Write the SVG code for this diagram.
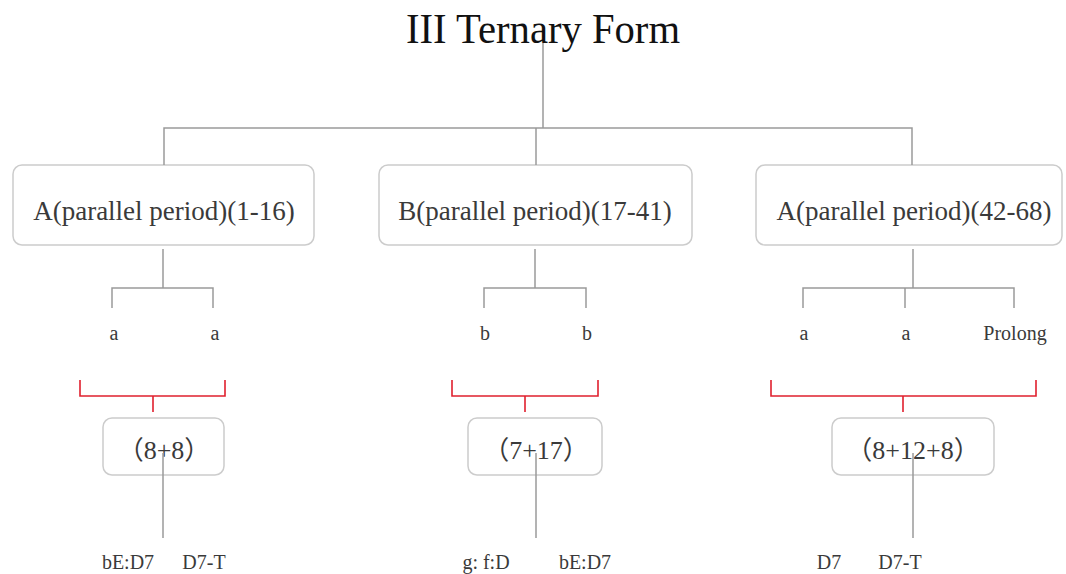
<svg xmlns="http://www.w3.org/2000/svg" width="1066" height="574" viewBox="0 0 1066 574">
  <style>
    .bg { fill: #ffffff; }
    .title { font-family: "Liberation Serif", "Times New Roman", serif; font-size: 43px; fill: #111111; text-anchor: middle; }
    .box { fill: #ffffff; stroke: #cccccc; stroke-width: 1.5; }
    .label { font-family: "Liberation Serif", "Times New Roman", serif; font-size: 27px; fill: #3a3a3a; text-anchor: middle; }
    .count { font-family: "Liberation Serif", "Noto Sans CJK SC", serif; font-size: 26px; fill: #3a3a3a; text-anchor: middle; }
    .small { font-family: "Liberation Serif", "Times New Roman", serif; font-size: 20px; fill: #3a3a3a; text-anchor: middle; }
    .tree { fill: none; stroke: #9a9a9a; stroke-width: 1.5; }
    .bracket { fill: none; stroke: #e0202e; stroke-width: 1.6; }
  </style>
  <rect class="bg" x="0" y="0" width="1066" height="574"/>

  <g id="title">
    <text class="title" x="543" y="43" textLength="274" lengthAdjust="spacingAndGlyphs">III Ternary Form</text>
  </g>

  <!-- sections -->
  <g id="section-a1">
    <rect class="box" x="13" y="165" width="301" height="80" rx="9"/>
    <text class="label" x="164" y="220">A(parallel period)(1-16)</text>
  </g>
  <g id="section-b">
    <rect class="box" x="379" y="165" width="313" height="80" rx="9"/>
    <text class="label" x="535" y="220">B(parallel period)(17-41)</text>
  </g>
  <g id="section-a2">
    <rect class="box" x="756" y="165" width="306" height="80" rx="9"/>
    <text class="label" x="914" y="220">A(parallel period)(42-68)</text>
  </g>

  <!-- phrases -->
  <g id="phrases-a1">
    <text class="small" x="114" y="340">a</text>
    <text class="small" x="215" y="340">a</text>
  </g>
  <g id="phrases-b">
    <text class="small" x="485" y="340">b</text>
    <text class="small" x="587" y="340">b</text>
  </g>
  <g id="phrases-a2">
    <text class="small" x="804" y="340">a</text>
    <text class="small" x="906" y="340">a</text>
    <text class="small" x="1015" y="340">Prolong</text>
  </g>

  <!-- bar counts -->
  <g id="bars-a1">
    <rect class="box" x="103" y="418" width="121" height="57" rx="9"/>
    <text class="count" x="164" y="459">（8+8）</text>
  </g>
  <g id="bars-b">
    <rect class="box" x="468" y="418" width="134" height="57" rx="9"/>
    <text class="count" x="536" y="459">（7+17）</text>
  </g>
  <g id="bars-a2">
    <rect class="box" x="832" y="418" width="162" height="57" rx="9"/>
    <text class="count" x="913" y="459">（8+12+8）</text>
  </g>

  <!-- harmony -->
  <g id="harmony-a1">
    <text class="small" x="128" y="569">bE:D7</text>
    <text class="small" x="204" y="569">D7-T</text>
  </g>
  <g id="harmony-b">
    <text class="small" x="486" y="569">g: f:D</text>
    <text class="small" x="585" y="569">bE:D7</text>
  </g>
  <g id="harmony-a2">
    <text class="small" x="829" y="569">D7</text>
    <text class="small" x="900" y="569">D7-T</text>
  </g>

  <g id="connectors">
    <!-- title to sections -->
    <path class="tree" d="M543 43 V128 M164 165 V128 H912 V165 M536 128 V165"/>
    <!-- sections to phrases -->
    <path class="tree" d="M163 249 V288 M112 308 V288 H213 V308"/>
    <path class="tree" d="M535 249 V288 M484 308 V288 H586 V308"/>
    <path class="tree" d="M913 249 V288 M803 308 V288 H1014 V308 M905 288 V308"/>
    <!-- phrase brackets -->
    <path class="bracket" d="M80 380 V396 H225 V380 M153 396 V412"/>
    <path class="bracket" d="M452 380 V396 H598 V380 M525 396 V412"/>
    <path class="bracket" d="M771 380 V396 H1036 V380 M903 396 V412"/>
    <!-- bar counts to harmony -->
    <path class="tree" d="M163 453 V538"/>
    <path class="tree" d="M536 453 V538"/>
    <path class="tree" d="M913 453 V538"/>
  </g>
</svg>
